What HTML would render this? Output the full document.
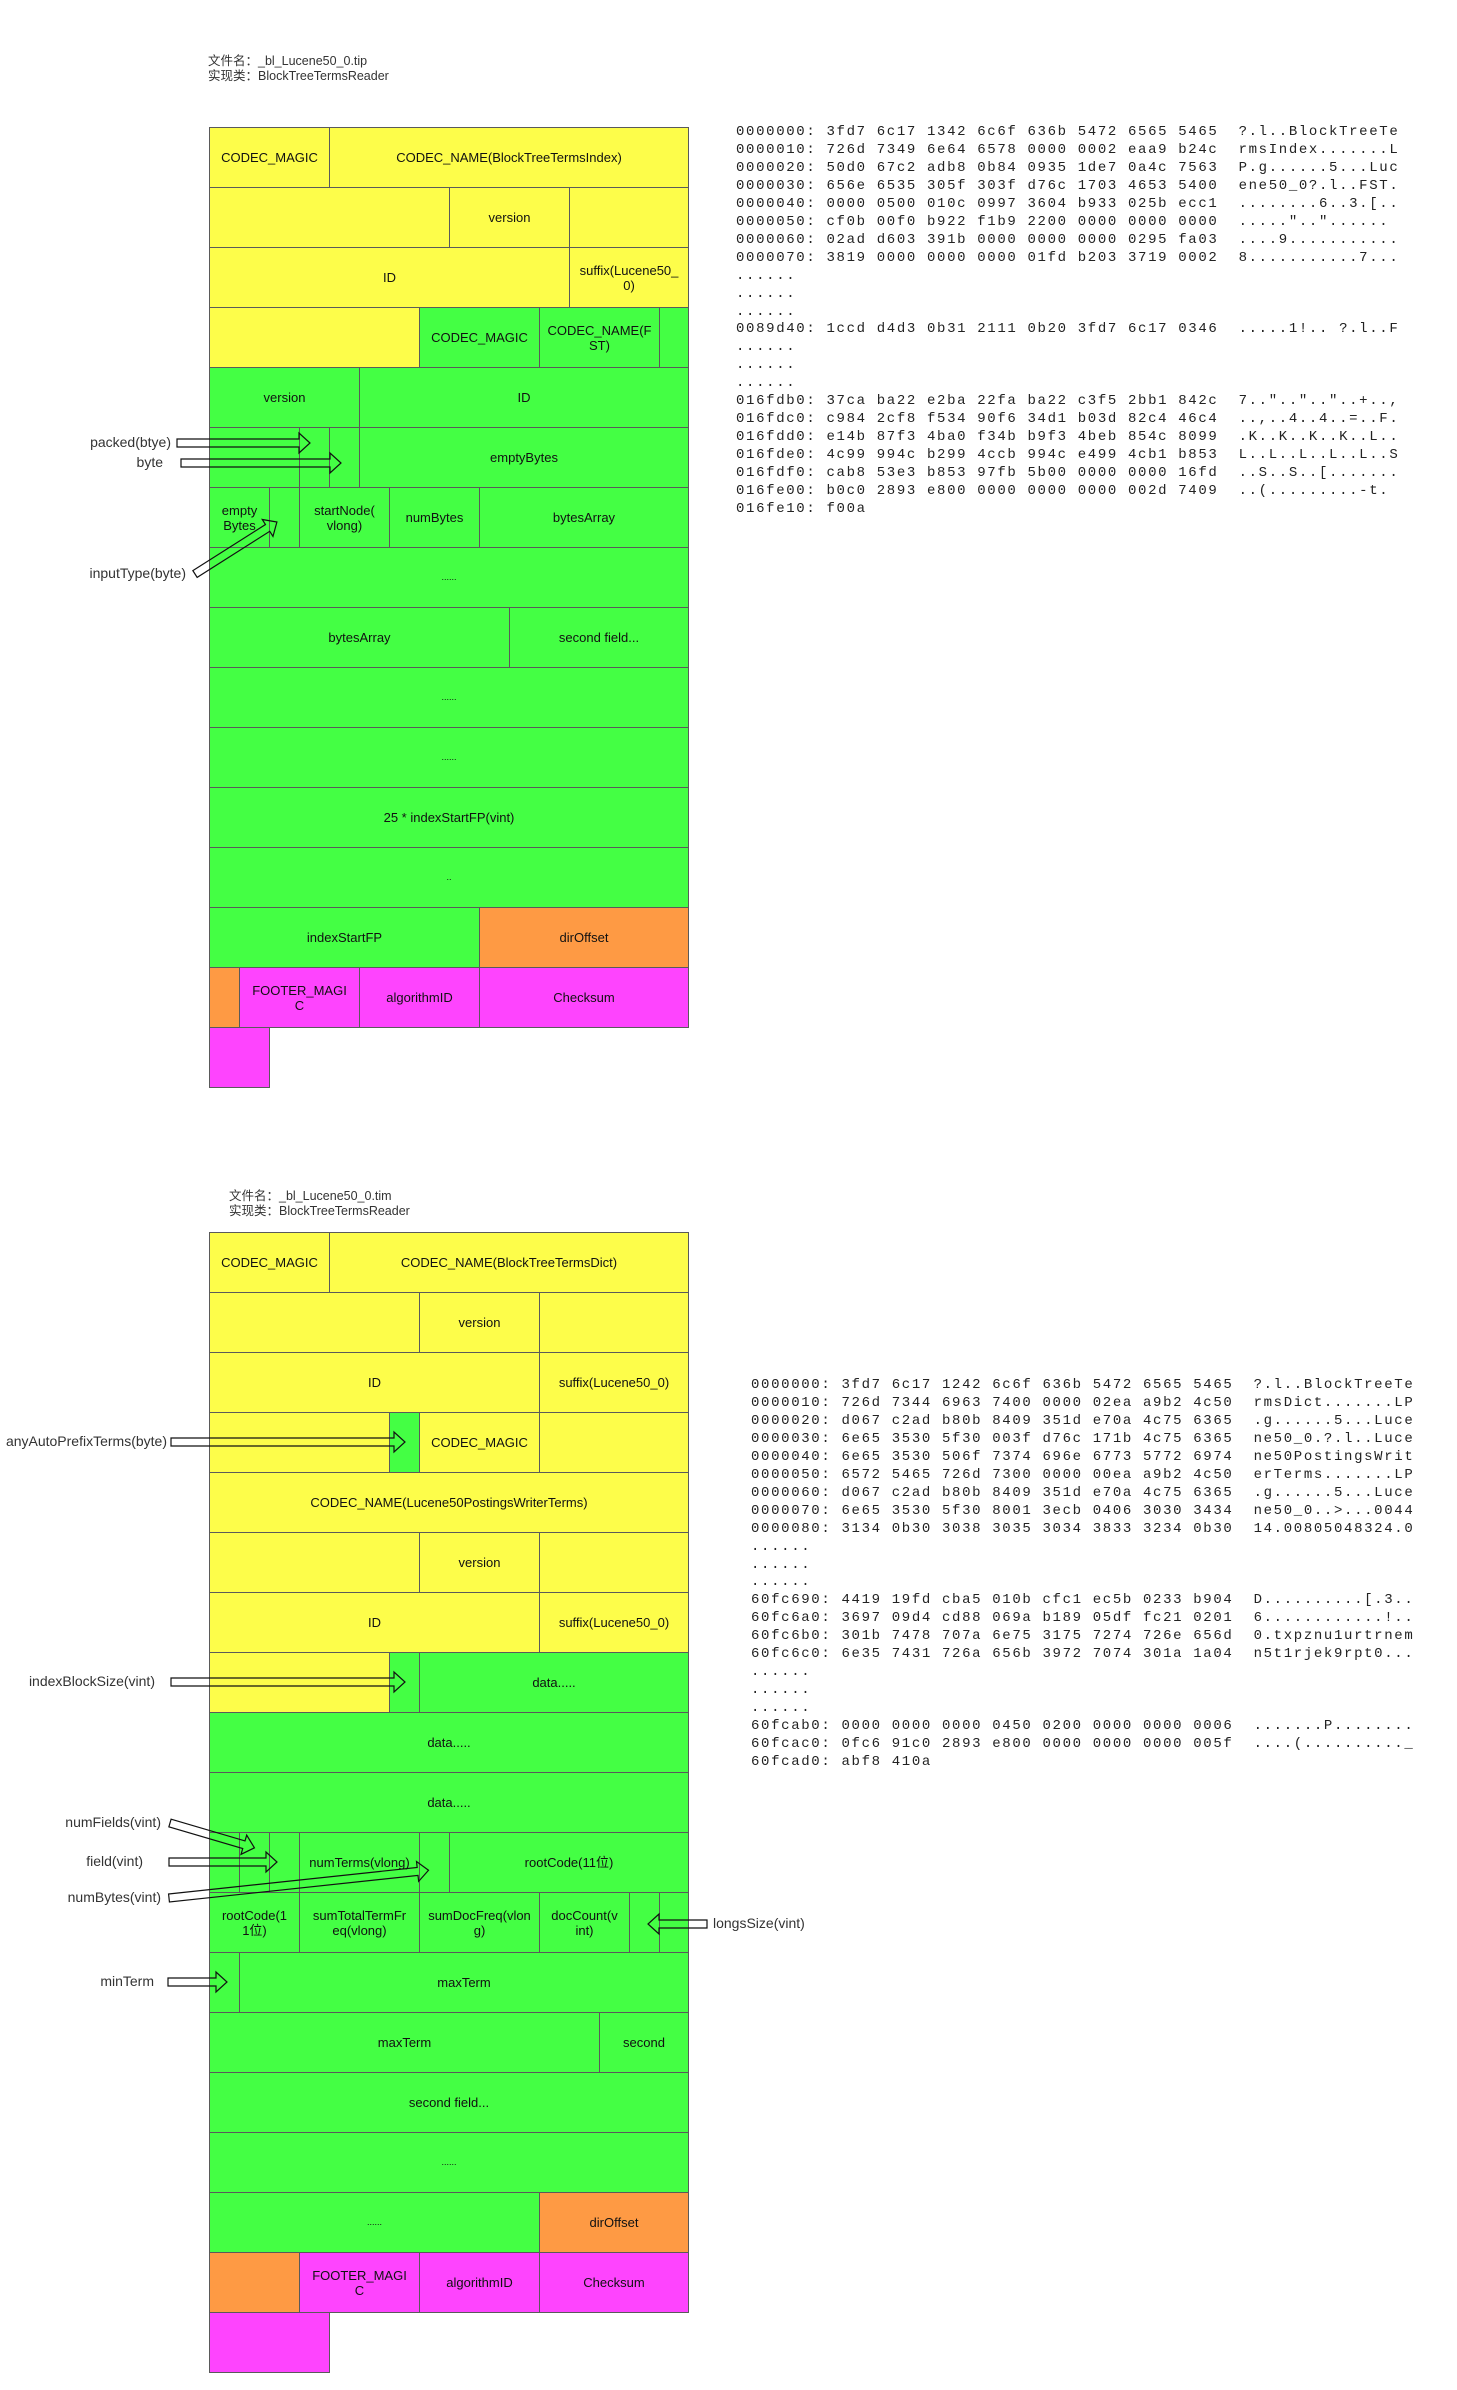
<!DOCTYPE html>
<html><head><meta charset="utf-8">
<style>
html,body{margin:0;padding:0;background:#fff;}
body{width:1457px;height:2390px;position:relative;overflow:hidden;font-family:"Liberation Sans","Noto Sans CJK SC",sans-serif;}
.c{position:absolute;box-sizing:border-box;border:1px solid #5a5a5a;display:flex;align-items:center;justify-content:center;text-align:center;font-size:13px;line-height:15px;color:#111;}
.Y{background:#fdfd4a;}.G{background:#44ff44;}.O{background:#fe9a44;}.M{background:#fe44fe;}
.lb{position:absolute;font-size:14px;color:#333;white-space:nowrap;line-height:15px;}
.t{position:absolute;font-size:12.5px;color:#333;line-height:15px;white-space:nowrap;}
pre{position:absolute;margin:0;font-family:"Liberation Mono",monospace;font-size:14px;letter-spacing:1.65px;line-height:17.95px;color:#222;}
svg{position:absolute;left:0;top:0;}
</style></head><body>

<div class="t" style="left:208px;top:54px">文件名：_bl_Lucene50_0.tip<br>实现类：BlockTreeTermsReader</div>

<!-- Diagram 1 -->
<div class="c Y" style="left:209px;top:127px;width:121px;height:61px">CODEC_MAGIC</div>
<div class="c Y" style="left:329px;top:127px;width:360px;height:61px">CODEC_NAME(BlockTreeTermsIndex)</div>
<div class="c Y" style="left:209px;top:187px;width:241px;height:61px"></div>
<div class="c Y" style="left:449px;top:187px;width:121px;height:61px">version</div>
<div class="c Y" style="left:569px;top:187px;width:120px;height:61px"></div>
<div class="c Y" style="left:209px;top:247px;width:361px;height:61px">ID</div>
<div class="c Y" style="left:569px;top:247px;width:120px;height:61px">suffix(Lucene50_<br>0)</div>
<div class="c Y" style="left:209px;top:307px;width:211px;height:61px"></div>
<div class="c G" style="left:419px;top:307px;width:121px;height:61px">CODEC_MAGIC</div>
<div class="c G" style="left:539px;top:307px;width:121px;height:61px">CODEC_NAME(F<br>ST)</div>
<div class="c G" style="left:659px;top:307px;width:30px;height:61px"></div>
<div class="c G" style="left:209px;top:367px;width:151px;height:61px">version</div>
<div class="c G" style="left:359px;top:367px;width:330px;height:61px">ID</div>
<div class="c G" style="left:209px;top:427px;width:91px;height:61px"></div>
<div class="c G" style="left:299px;top:427px;width:31px;height:61px"></div>
<div class="c G" style="left:329px;top:427px;width:31px;height:61px"></div>
<div class="c G" style="left:359px;top:427px;width:330px;height:61px">emptyBytes</div>
<div class="c G" style="left:209px;top:487px;width:61px;height:61px">empty<br>Bytes</div>
<div class="c G" style="left:269px;top:487px;width:31px;height:61px"></div>
<div class="c G" style="left:299px;top:487px;width:91px;height:61px">startNode(<br>vlong)</div>
<div class="c G" style="left:389px;top:487px;width:91px;height:61px">numBytes</div>
<div class="c G" style="left:479px;top:487px;width:210px;height:61px">bytesArray</div>
<div class="c G" style="left:209px;top:547px;width:480px;height:61px;font-size:9px">......</div>
<div class="c G" style="left:209px;top:607px;width:301px;height:61px">bytesArray</div>
<div class="c G" style="left:509px;top:607px;width:180px;height:61px">second field...</div>
<div class="c G" style="left:209px;top:667px;width:480px;height:61px;font-size:9px">......</div>
<div class="c G" style="left:209px;top:727px;width:480px;height:61px;font-size:9px">......</div>
<div class="c G" style="left:209px;top:787px;width:480px;height:61px">25 * indexStartFP(vint)</div>
<div class="c G" style="left:209px;top:847px;width:480px;height:61px;font-size:9px">..</div>
<div class="c G" style="left:209px;top:907px;width:271px;height:61px">indexStartFP</div>
<div class="c O" style="left:479px;top:907px;width:210px;height:61px">dirOffset</div>
<div class="c O" style="left:209px;top:967px;width:31px;height:61px"></div>
<div class="c M" style="left:239px;top:967px;width:121px;height:61px">FOOTER_MAGI<br>C</div>
<div class="c M" style="left:359px;top:967px;width:121px;height:61px">algorithmID</div>
<div class="c M" style="left:479px;top:967px;width:210px;height:61px">Checksum</div>
<div class="c M" style="left:209px;top:1027px;width:61px;height:61px"></div>

<div class="lb" style="right:1286px;top:435px">packed(btye)</div>
<div class="lb" style="right:1294px;top:455px">byte</div>
<div class="lb" style="right:1271px;top:566px">inputType(byte)</div>

<pre style="left:736px;top:124px">0000000: 3fd7 6c17 1342 6c6f 636b 5472 6565 5465  ?.l..BlockTreeTe
0000010: 726d 7349 6e64 6578 0000 0002 eaa9 b24c  rmsIndex.......L
0000020: 50d0 67c2 adb8 0b84 0935 1de7 0a4c 7563  P.g......5...Luc
0000030: 656e 6535 305f 303f d76c 1703 4653 5400  ene50_0?.l..FST.
0000040: 0000 0500 010c 0997 3604 b933 025b ecc1  ........6..3.[..
0000050: cf0b 00f0 b922 f1b9 2200 0000 0000 0000  .....".."......
0000060: 02ad d603 391b 0000 0000 0000 0295 fa03  ....9...........
0000070: 3819 0000 0000 0000 01fd b203 3719 0002  8...........7...
......
......
......
0089d40: 1ccd d4d3 0b31 2111 0b20 3fd7 6c17 0346  .....1!.. ?.l..F
......
......
......
016fdb0: 37ca ba22 e2ba 22fa ba22 c3f5 2bb1 842c  7.."..".."..+..,
016fdc0: c984 2cf8 f534 90f6 34d1 b03d 82c4 46c4  ..,..4..4..=..F.
016fdd0: e14b 87f3 4ba0 f34b b9f3 4beb 854c 8099  .K..K..K..K..L..
016fde0: 4c99 994c b299 4ccb 994c e499 4cb1 b853  L..L..L..L..L..S
016fdf0: cab8 53e3 b853 97fb 5b00 0000 0000 16fd  ..S..S..[.......
016fe00: b0c0 2893 e800 0000 0000 0000 002d 7409  ..(.........-t.
016fe10: f00a</pre>

<!-- Diagram 2 -->
<div class="t" style="left:229px;top:1189px">文件名：_bl_Lucene50_0.tim<br>实现类：BlockTreeTermsReader</div>

<div class="c Y" style="left:209px;top:1232px;width:121px;height:61px">CODEC_MAGIC</div>
<div class="c Y" style="left:329px;top:1232px;width:360px;height:61px">CODEC_NAME(BlockTreeTermsDict)</div>
<div class="c Y" style="left:209px;top:1292px;width:211px;height:61px"></div>
<div class="c Y" style="left:419px;top:1292px;width:121px;height:61px">version</div>
<div class="c Y" style="left:539px;top:1292px;width:150px;height:61px"></div>
<div class="c Y" style="left:209px;top:1352px;width:331px;height:61px">ID</div>
<div class="c Y" style="left:539px;top:1352px;width:150px;height:61px">suffix(Lucene50_0)</div>
<div class="c Y" style="left:209px;top:1412px;width:181px;height:61px"></div>
<div class="c G" style="left:389px;top:1412px;width:31px;height:61px"></div>
<div class="c Y" style="left:419px;top:1412px;width:121px;height:61px">CODEC_MAGIC</div>
<div class="c Y" style="left:539px;top:1412px;width:150px;height:61px"></div>
<div class="c Y" style="left:209px;top:1472px;width:480px;height:61px">CODEC_NAME(Lucene50PostingsWriterTerms)</div>
<div class="c Y" style="left:209px;top:1532px;width:211px;height:61px"></div>
<div class="c Y" style="left:419px;top:1532px;width:121px;height:61px">version</div>
<div class="c Y" style="left:539px;top:1532px;width:150px;height:61px"></div>
<div class="c Y" style="left:209px;top:1592px;width:331px;height:61px">ID</div>
<div class="c Y" style="left:539px;top:1592px;width:150px;height:61px">suffix(Lucene50_0)</div>
<div class="c Y" style="left:209px;top:1652px;width:181px;height:61px"></div>
<div class="c G" style="left:389px;top:1652px;width:31px;height:61px"></div>
<div class="c G" style="left:419px;top:1652px;width:270px;height:61px">data.....</div>
<div class="c G" style="left:209px;top:1712px;width:480px;height:61px">data.....</div>
<div class="c G" style="left:209px;top:1772px;width:480px;height:61px">data.....</div>
<div class="c G" style="left:209px;top:1832px;width:31px;height:61px"></div>
<div class="c G" style="left:239px;top:1832px;width:31px;height:61px"></div>
<div class="c G" style="left:269px;top:1832px;width:31px;height:61px"></div>
<div class="c G" style="left:299px;top:1832px;width:121px;height:61px">numTerms(vlong)</div>
<div class="c G" style="left:419px;top:1832px;width:31px;height:61px"></div>
<div class="c G" style="left:449px;top:1832px;width:240px;height:61px">rootCode(11位)</div>
<div class="c G" style="left:209px;top:1892px;width:91px;height:61px">rootCode(1<br>1位)</div>
<div class="c G" style="left:299px;top:1892px;width:121px;height:61px">sumTotalTermFr<br>eq(vlong)</div>
<div class="c G" style="left:419px;top:1892px;width:121px;height:61px">sumDocFreq(vlon<br>g)</div>
<div class="c G" style="left:539px;top:1892px;width:91px;height:61px">docCount(v<br>int)</div>
<div class="c G" style="left:629px;top:1892px;width:31px;height:61px"></div>
<div class="c G" style="left:659px;top:1892px;width:30px;height:61px"></div>
<div class="c G" style="left:209px;top:1952px;width:31px;height:61px"></div>
<div class="c G" style="left:239px;top:1952px;width:450px;height:61px">maxTerm</div>
<div class="c G" style="left:209px;top:2012px;width:391px;height:61px">maxTerm</div>
<div class="c G" style="left:599px;top:2012px;width:90px;height:61px">second</div>
<div class="c G" style="left:209px;top:2072px;width:480px;height:61px">second field...</div>
<div class="c G" style="left:209px;top:2132px;width:480px;height:61px;font-size:9px">......</div>
<div class="c G" style="left:209px;top:2192px;width:331px;height:61px;font-size:9px">......</div>
<div class="c O" style="left:539px;top:2192px;width:150px;height:61px">dirOffset</div>
<div class="c O" style="left:209px;top:2252px;width:91px;height:61px"></div>
<div class="c M" style="left:299px;top:2252px;width:121px;height:61px">FOOTER_MAGI<br>C</div>
<div class="c M" style="left:419px;top:2252px;width:121px;height:61px">algorithmID</div>
<div class="c M" style="left:539px;top:2252px;width:150px;height:61px">Checksum</div>
<div class="c M" style="left:209px;top:2312px;width:121px;height:61px"></div>

<div class="lb" style="right:1290px;top:1434px">anyAutoPrefixTerms(byte)</div>
<div class="lb" style="right:1302px;top:1674px">indexBlockSize(vint)</div>
<div class="lb" style="right:1296px;top:1815px">numFields(vint)</div>
<div class="lb" style="right:1314px;top:1854px">field(vint)</div>
<div class="lb" style="right:1296px;top:1890px">numBytes(vint)</div>
<div class="lb" style="left:713px;top:1916px">longsSize(vint)</div>
<div class="lb" style="right:1303px;top:1974px">minTerm</div>

<pre style="left:751px;top:1377px">0000000: 3fd7 6c17 1242 6c6f 636b 5472 6565 5465  ?.l..BlockTreeTe
0000010: 726d 7344 6963 7400 0000 02ea a9b2 4c50  rmsDict.......LP
0000020: d067 c2ad b80b 8409 351d e70a 4c75 6365  .g......5...Luce
0000030: 6e65 3530 5f30 003f d76c 171b 4c75 6365  ne50_0.?.l..Luce
0000040: 6e65 3530 506f 7374 696e 6773 5772 6974  ne50PostingsWrit
0000050: 6572 5465 726d 7300 0000 00ea a9b2 4c50  erTerms.......LP
0000060: d067 c2ad b80b 8409 351d e70a 4c75 6365  .g......5...Luce
0000070: 6e65 3530 5f30 8001 3ecb 0406 3030 3434  ne50_0..>...0044
0000080: 3134 0b30 3038 3035 3034 3833 3234 0b30  14.00805048324.0
......
......
......
60fc690: 4419 19fd cba5 010b cfc1 ec5b 0233 b904  D..........[.3..
60fc6a0: 3697 09d4 cd88 069a b189 05df fc21 0201  6............!..
60fc6b0: 301b 7478 707a 6e75 3175 7274 726e 656d  0.txpznu1urtrnem
60fc6c0: 6e35 7431 726a 656b 3972 7074 301a 1a04  n5t1rjek9rpt0...
......
......
......
60fcab0: 0000 0000 0000 0450 0200 0000 0000 0006  .......P........
60fcac0: 0fc6 91c0 2893 e800 0000 0000 0000 005f  ....(.........._
60fcad0: abf8 410a</pre>

<svg width="1457" height="2390" viewBox="0 0 1457 2390">
<g fill="none" stroke="#111" stroke-width="1.2" stroke-linejoin="miter">
<g transform="translate(177,443)"><polygon points="0,-4 122,-4 122,-10 133,0 122,10 122,4 0,4"/></g>
<g transform="translate(181,463)"><polygon points="0,-4 149,-4 149,-10 160,0 149,10 149,4 0,4"/></g>
<g transform="translate(195,574) rotate(-32.4)"><polygon points="0,-4 86,-4 86,-10 97,0 86,10 86,4 0,4"/></g>
<g transform="translate(171,1442)"><polygon points="0,-4 223,-4 223,-10 234,0 223,10 223,4 0,4"/></g>
<g transform="translate(171,1682)"><polygon points="0,-4 223,-4 223,-10 234,0 223,10 223,4 0,4"/></g>
<g transform="translate(170,1823) rotate(16.4)"><polygon points="0,-4 77,-4 77,-10 88,0 77,10 77,4 0,4"/></g>
<g transform="translate(169,1862)"><polygon points="0,-4 97,-4 97,-10 108,0 97,10 97,4 0,4"/></g>
<g transform="translate(169,1898) rotate(-6.1)"><polygon points="0,-4 250,-4 250,-10 261,0 250,10 250,4 0,4"/></g>
<g transform="translate(707,1924) rotate(180)"><polygon points="0,-4 48,-4 48,-10 59,0 48,10 48,4 0,4"/></g>
<g transform="translate(168,1982)"><polygon points="0,-4 48,-4 48,-10 59,0 48,10 48,4 0,4"/></g>
</g>
</svg>
</body></html>
